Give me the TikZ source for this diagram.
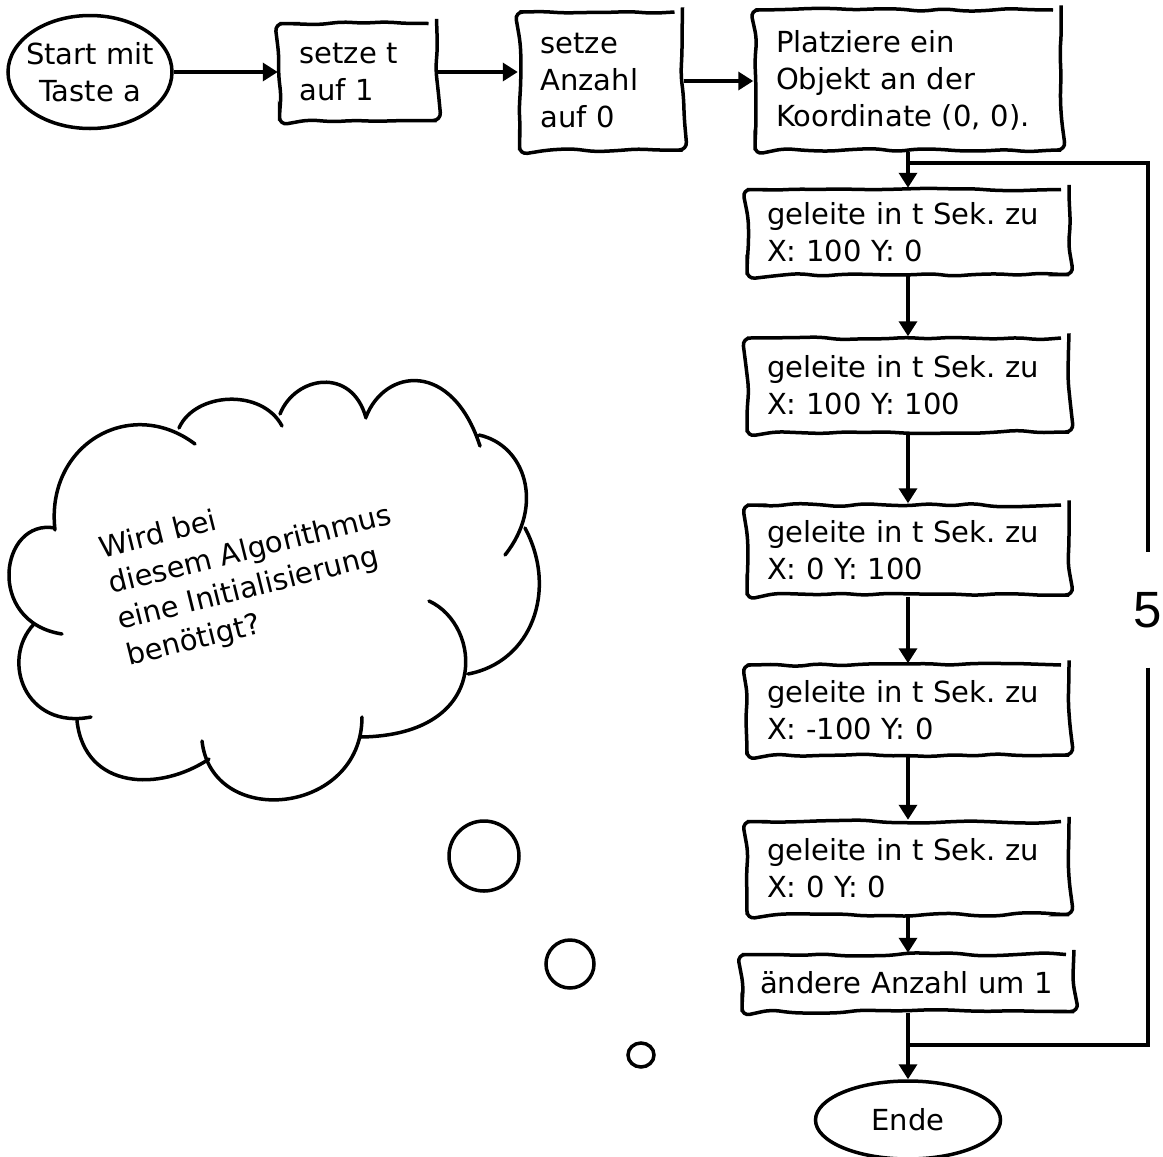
\documentclass[tikz,border=0pt]{standalone}
\usepackage{fontspec}
\setmainfont{DejaVu Sans}
\newfontfamily\zahlfont{Liberation Sans}
\usetikzlibrary{arrows.meta,shapes.geometric,decorations.pathmorphing}

\tikzset{
    linie/.style={line width=3.5pt},
    pfeil/.style={line width=3.5pt, -{Triangle[length=15pt,width=18pt]}},
    kasten/.style={draw, line width=3.5pt, align=left, inner xsep=20pt, inner ysep=0pt,
        decorate, decoration={random steps, segment length=22pt, amplitude=1.8pt},
        rounded corners=8pt},
    oval/.style={draw, line width=3.5pt, ellipse, align=center, inner sep=-6pt},
}

\begin{document}
\begin{tikzpicture}[x=1pt, y=-1pt, font=\fontsize{29}{37}\selectfont\frenchspacing]
    \pgfmathsetseed{5}
    \useasboundingbox (0,0) rectangle (1163,1157);

    % Start und Initialisierung
    \node[oval, minimum width=164pt, minimum height=113pt] (start) at (90,72) {Start mit\\Taste a};
    \node[kasten, text width=117pt, minimum height=97pt] (b1) at (358,72) {setze t\\auf 1};
    \node[kasten, text width=121pt, minimum height=138pt, inner xsep=21pt] (b2) at (601,81) {setze\\Anzahl\\auf 0};
    \node[kasten, text width=264pt, minimum height=140pt, inner xsep=21pt] (b3) at (908,80) {Platziere ein\\Objekt an der\\Koordinate (0, 0).};

    % Schleife
    \node[kasten, text width=282pt, minimum height=85pt] (g1) at (908,232) {geleite in t Sek. zu\\X: 100 Y: 0};
    \node[kasten, text width=282pt, minimum height=94pt] (g2) at (908,385) {geleite in t Sek. zu\\X: 100 Y: 100};
    \node[kasten, text width=282pt, minimum height=90pt] (g3) at (908,550) {geleite in t Sek. zu\\X: 0 Y: 100};
    \node[kasten, text width=282pt, minimum height=90pt] (g4) at (908,710) {geleite in t Sek. zu\\X: -100 Y: 0};
    \node[kasten, text width=282pt, minimum height=93pt] (g5) at (908,868) {geleite in t Sek. zu\\X: 0 Y: 0};
    \node[kasten, text width=296pt, minimum height=57pt, inner xsep=18pt] (g6) at (908,983) {ändere Anzahl um 1};
    \node[oval, inner sep=0pt, minimum width=185pt, minimum height=78pt] (ende) at (908,1120) {Ende};

    \node[font=\zahlfont\fontsize{51}{51}\selectfont, inner sep=0pt, minimum height=115pt] (n5) at (1148,610) {5};
    \coordinate (oben) at (908,163);
    \coordinate (unten) at (908,1045);

    % Pfeile
    \draw[pfeil] (start) -- (b1);
    \draw[pfeil] (b1.east) -- (b1.east -| b2.west);
    \draw[pfeil] (b2.east) -- (b2.east -| b3.west);
    \draw[pfeil] (b3) -- (g1);
    \draw[pfeil] (g1) -- (g2);
    \draw[pfeil] (g2) -- (g3);
    \draw[pfeil] (g3) -- (g4);
    \draw[pfeil] (g4) -- (g5);
    \draw[pfeil] (g5) -- (g6);
    \draw[pfeil] (g6) -- (ende);
    \draw[linie] (oben) -| (n5.north);
    \draw[linie] (n5.south) |- (unten);

    % Wolke
    \draw[linie, line cap=round]
        (55,530) .. controls (45,445) and (130,395) .. (195,444)
        (179,428) .. controls (195,392) and (262,388) .. (282,426)
        (280,414) .. controls (295,376) and (352,366) .. (366,418)
        (366,417) .. controls (385,368) and (452,360) .. (480,446)
        (479,435) .. controls (525,445) and (545,505) .. (505,555)
        (525,528) .. controls (558,590) and (532,662) .. (468,674)
        (429,601) .. controls (482,625) and (492,735) .. (361,737)
        (362,717) .. controls (362,815) and (212,830) .. (202,741)
        (209,759) .. controls (160,792) and (85,790) .. (77,721)
        (34,624) .. controls (0,660) and (25,730) .. (91,717)
        (55,528) .. controls (0,518) and (-15,622) .. (62,634);
    \node[rotate=14, align=left] (frage) at (255,569) {Wird bei\\diesem Algorithmus\\eine Initialisierung\\benötigt?};

    % Gedankenblasen
    \draw[linie] (484,856) circle[radius=35pt];
    \draw[linie] (570,964) circle[radius=24pt];
    \draw[linie] (641,1055) circle[x radius=13pt, y radius=12pt];
\end{tikzpicture}
\end{document}
